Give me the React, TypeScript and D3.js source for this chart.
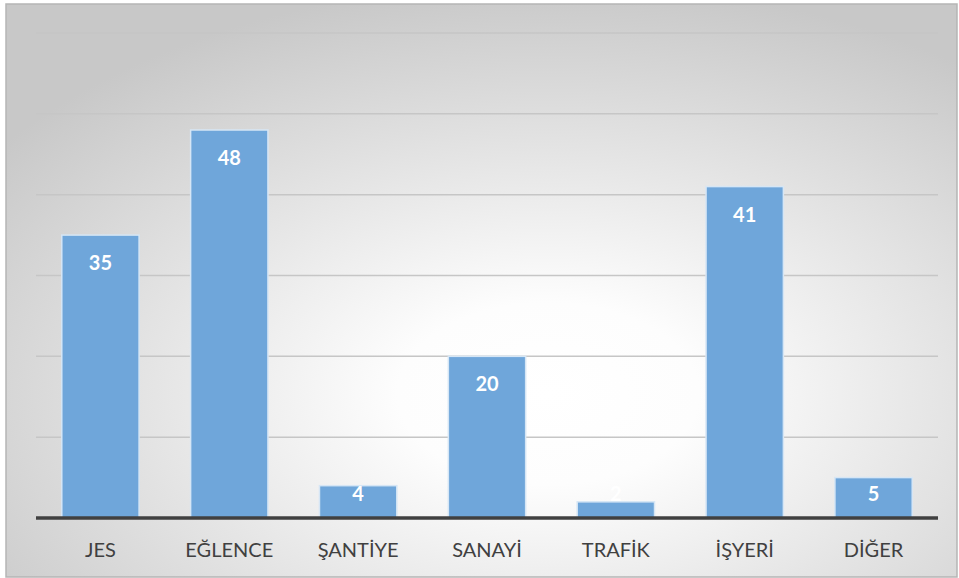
import React from "react";
import * as d3 from "d3";

const categories = ["JES", "EĞLENCE", "ŞANTİYE", "SANAYİ", "TRAFİK", "İŞYERİ", "DİĞER"];
const values = [35, 48, 4, 20, 2, 41, 5];
const yTicks = [0, 10, 20, 30, 40, 50, 60];

const W = 959;
const H = 578;
const left = 36;
const right = 938;
const top = 33;
const bottom = 518;

export default function App() {
  const x = d3.scaleBand<string>().domain(categories).range([left, right]).paddingInner(0.4).paddingOuter(0.2);
  const y = d3.scaleLinear().domain([0, 60]).range([bottom, top]);
  return (
    <svg width={W} height={H} style={{ position: "absolute", left: 0, top: 0 }}>
      <defs>
        <radialGradient id="bg" cx="0.57" cy="0.68" r="0.72" gradientUnits="objectBoundingBox">
          <stop offset="0" stopColor="#ffffff" />
          <stop offset="0.22" stopColor="#fdfdfd" />
          <stop offset="1" stopColor="#c8c8c8" />
        </radialGradient>
      </defs>
      <rect x={0} y={0} width={W} height={H} fill="#ffffff" />
      <rect x={6} y={4} width={951} height={573} fill="url(#bg)" stroke="#b5b5b5" strokeWidth={1.5} />
      {yTicks.slice(1).map((t) => (
        <line key={t} x1={left} x2={right} y1={y(t)} y2={y(t)} stroke="#c6c6c6" strokeWidth={1.5} />
      ))}
      {categories.map((c, i) => (
        <rect
          key={c}
          x={x(c)!}
          y={y(values[i])}
          width={x.bandwidth()}
          height={bottom - y(values[i])}
          fill="#6FA6DA"
          stroke="#d6e6f5"
          strokeWidth={1.5}
        />
      ))}
      <line x1={left} x2={right} y1={bottom} y2={bottom} stroke="#404040" strokeWidth={3.5} />
      {categories.map((c, i) => (
        <text
          key={"v" + c}
          x={x(c)! + x.bandwidth() / 2}
          y={Math.min(y(values[i]) + 27, 493)}
          textAnchor="middle"
          dominantBaseline="central"
          fill="#ffffff"
          fontFamily="Lato, sans-serif"
          fontWeight="bold"
          fontSize={20}
        >
          {values[i]}
        </text>
      ))}
      {categories.map((c) => (
        <text
          key={"l" + c}
          x={x(c)! + x.bandwidth() / 2}
          y={549}
          textAnchor="middle"
          dominantBaseline="central"
          fill="#404040"
          fontFamily="Lato, sans-serif"
          fontSize={20}
        >
          {c}
        </text>
      ))}
    </svg>
  );
}
